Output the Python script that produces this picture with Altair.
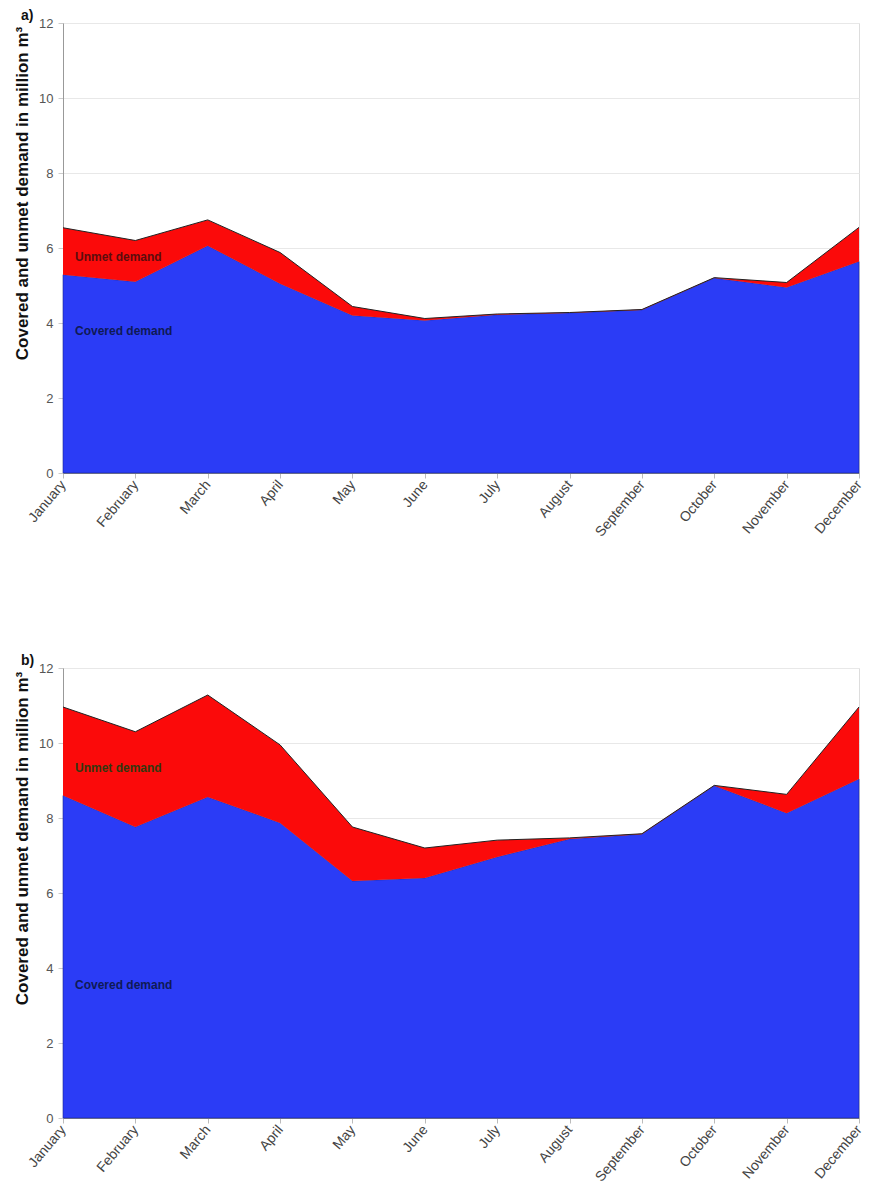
import altair as alt
import pandas as pd

months = ["January", "February", "March", "April", "May", "June", "July",
          "August", "September", "October", "November", "December"]

# Panel a)
covered_a = [5.29, 5.10, 6.06, 5.05, 4.20, 4.07, 4.22, 4.27, 4.35, 5.20, 4.95, 5.64]
total_a = [6.54, 6.20, 6.75, 5.88, 4.44, 4.12, 4.24, 4.28, 4.36, 5.21, 5.08, 6.55]

# Panel b)
covered_b = [8.60, 7.76, 8.56, 7.87, 6.32, 6.40, 6.96, 7.44, 7.57, 8.86, 8.13, 9.04]
total_b = [10.96, 10.30, 11.28, 9.95, 7.76, 7.20, 7.41, 7.47, 7.58, 8.87, 8.63, 10.96]

panel_labels = ["a)", "b)"]
unmet_label = "Unmet demand"
covered_label = "Covered demand"
label_y_a = [5.77, 3.80]
label_y_b = [9.33, 3.55]
unmet_colors = ["#5c0d0d", "#33380f"]
y_title = "Covered and unmet demand in million m³"
y_ticks = [0, 2, 4, 6, 8, 10, 12]

BLUE = "#2b3cf6"
RED = "#fb0a0a"


def panel(covered, total, tag, label_y, unmet_color):
    df = pd.DataFrame({"month": months, "covered": covered, "total": total})
    x = alt.X("month:N", sort=months, title=None,
              scale=alt.Scale(padding=0),
              axis=alt.Axis(labelAngle=-50, labelAlign="right", labelBaseline="middle",
                            labelFontSize=14, labelColor="#444", labelFont="Liberation Sans",
                            labelPadding=4, tickSize=5, tickColor="#bbb",
                            domainColor="#888", grid=False))
    y_axis = alt.Axis(values=y_ticks, grid=True, gridColor="#e8e8e8", domainColor="#999",
                      tickColor="#ccc", tickSize=5, labelPadding=5,
                      labelFontSize=13, labelColor="#555", labelFont="Liberation Sans",
                      title=y_title, titleFontSize=17, titleFont="Liberation Sans",
                      titleFontWeight="bold", titleColor="#111", titlePadding=7,
                      titleY=170)
    yscale = alt.Scale(domain=[0, 12], nice=False)
    base = alt.Chart(df)
    blue = base.mark_area(color=BLUE, opacity=1, stroke="#1a2590", strokeWidth=0.6).encode(
        x=x, y=alt.Y("covered:Q", scale=yscale, axis=y_axis))
    red = base.mark_area(color=RED, opacity=1).encode(
        x=x, y=alt.Y("total:Q", scale=yscale), y2="covered:Q")
    line = base.mark_line(color="#222", strokeWidth=1).encode(
        x=x, y=alt.Y("total:Q", scale=yscale))
    lab = pd.DataFrame({"month": [months[0], months[0]],
                        "v": label_y,
                        "t": [unmet_label, covered_label],
                        "c": [unmet_color, "#0f1a55"]})
    texts = alt.Chart(lab).mark_text(align="left", baseline="middle", dx=12,
                                     fontSize=12, fontWeight="bold",
                                     font="Liberation Sans").encode(
        x=alt.X("month:N", sort=months), y=alt.Y("v:Q", scale=yscale),
        text="t:N", color=alt.Color("c:N", scale=None))
    tagdf = pd.DataFrame({"t": [tag]})
    tagm = alt.Chart(tagdf).mark_text(align="left", baseline="middle", fontSize=14,
                                      fontWeight="bold", font="Liberation Sans",
                                      color="#111").encode(
        x=alt.value(-42), y=alt.value(-7), text="t:N")
    return alt.layer(blue, red, line, texts, tagm).properties(width=796, height=450)


a = panel(covered_a, total_a, panel_labels[0], label_y_a, unmet_colors[0])
b = panel(covered_b, total_b, panel_labels[1], label_y_b, unmet_colors[1])

chart = alt.vconcat(a, b, spacing=113).properties(
    padding={"left": 5, "top": 0, "right": 0, "bottom": 0}
).configure_view(stroke="#999", strokeWidth=1).configure(background="white")

chart.save("out.html", embed_options={"renderer": "svg", "actions": False})
